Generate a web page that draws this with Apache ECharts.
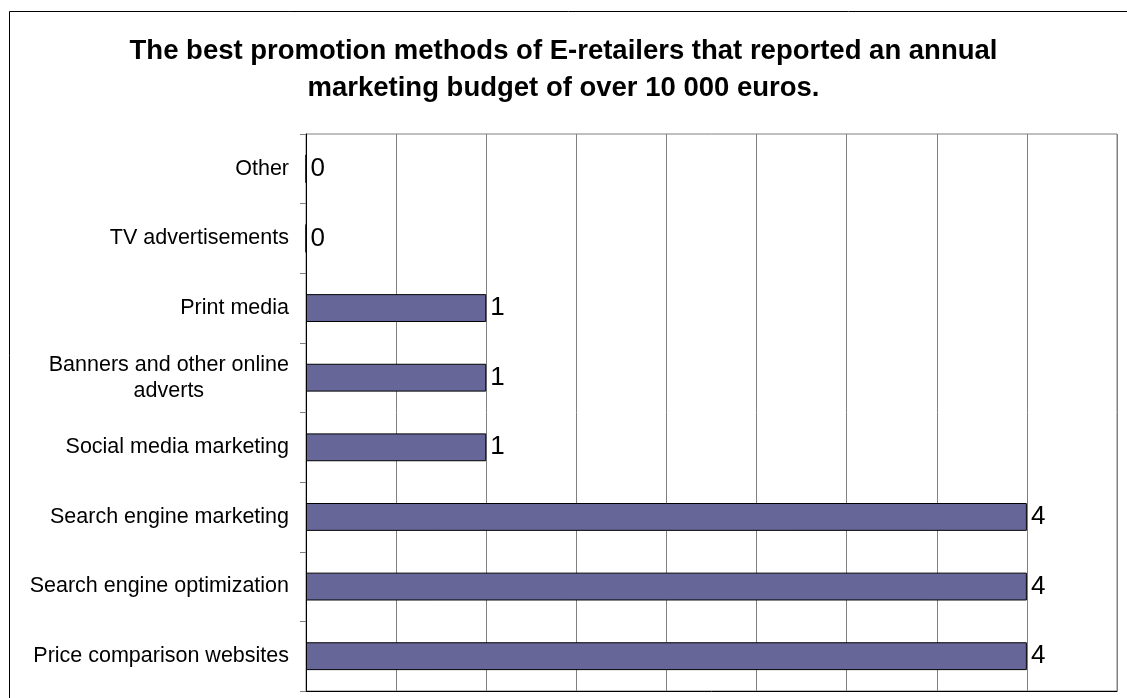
<!DOCTYPE html>
<html>
<head>
<meta charset="utf-8">
<title>Promotion methods</title>
<script src="https://cdn.jsdelivr.net/npm/echarts@6/dist/echarts.min.js"></script>
<style>
  html, body { margin: 0; padding: 0; background: #fff; }
  #chart { width: 1127px; height: 698px; }
</style>
</head>
<body>
<div id="chart"></div>
<script>
// Promotion methods, listed from the top row down
const categories = [
  'Other',
  'TV advertisements',
  'Print media',
  'Banners and other online\nadverts',
  'Social media marketing',
  'Search engine marketing',
  'Search engine optimization',
  'Price comparison websites'
];
// Number of e-retailers naming each method
const counts = [0, 0, 1, 1, 1, 4, 4, 4];

const titleText = 'The best promotion methods of E-retailers that reported an annual\nmarketing budget of over 10 000 euros.';

const FONT = '"Liberation Sans", Arial, Helvetica, sans-serif';

const chart = echarts.init(document.getElementById('chart'), null, { renderer: 'canvas' });

chart.setOption({
  backgroundColor: '#ffffff',
  animation: false,
  title: {
    text: titleText,
    left: 'center',
    top: 28,
    textStyle: {
      fontFamily: FONT,
      fontSize: 27.5,
      fontWeight: 'bold',
      color: '#000',
      lineHeight: 37
    }
  },
  graphic: [{
    type: 'rect',
    shape: { x: 9.5, y: 11.5, width: 1200, height: 800 },
    style: { fill: 'none', stroke: '#000', lineWidth: 1 },
    silent: true,
    z: 0
  }],
  grid: {
    left: 306,
    right: 10,
    top: 134,
    bottom: 7,
    show: true,
    borderColor: '#808080',
    borderWidth: 1,
    containLabel: false
  },
  xAxis: {
    type: 'value',
    min: 0,
    max: 4.5,
    interval: 0.5,
    axisLabel: { show: false },
    axisTick: { show: false },
    axisLine: { show: true, lineStyle: { color: '#000', width: 1 } },
    splitLine: { show: true, lineStyle: { color: '#808080', width: 1 } }
  },
  yAxis: {
    type: 'category',
    inverse: true,
    data: categories,
    axisLine: { show: true, lineStyle: { color: '#000', width: 1 } },
    axisTick: { show: true, length: 6, lineStyle: { color: '#808080' } },
    axisLabel: {
      margin: 17,
      align: 'right',
      color: '#000',
      fontFamily: FONT,
      fontSize: 21.5,
      lineHeight: 26,
      formatter: function (v) {
        return v.split('\n').map(function (s) { return '{c|' + s + '}'; }).join('\n');
      },
      rich: {
        c: {
          align: 'center',
          color: '#000',
          fontFamily: FONT,
          fontSize: 21.5,
          lineHeight: 26
        }
      }
    }
  },
  series: [{
    type: 'bar',
    data: counts,
    barWidth: '40%',
    itemStyle: { color: '#666699', borderColor: '#000', borderWidth: 1 },
    label: {
      show: true,
      position: 'right',
      distance: 4,
      color: '#000',
      fontFamily: FONT,
      fontSize: 26
    }
  }]
});
</script>
</body>
</html>
